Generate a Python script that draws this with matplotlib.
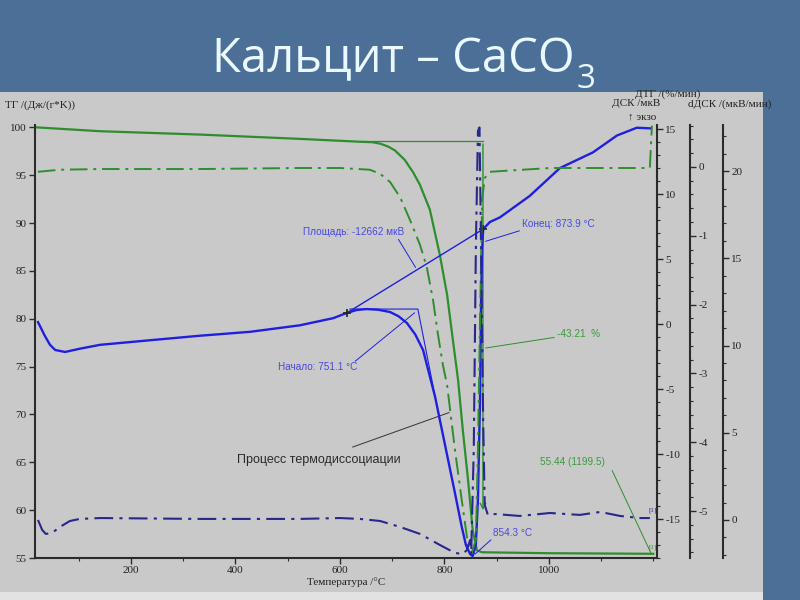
import matplotlib.pyplot as plt
from matplotlib.patches import Rectangle
from matplotlib.ticker import MultipleLocator

# ---- data (temperature in °C) ----
# TG, %
tg_t = [20, 141, 332, 523, 638, 662, 677, 692, 705, 724, 740, 753, 772, 791,
        805, 816, 826, 835, 845, 854, 862, 872, 1000, 1199.5]
tg_v = [100.0, 99.6, 99.25, 98.8, 98.5, 98.45, 98.3, 98.0, 97.6, 96.6, 95.3,
        94.0, 91.4, 86.7, 82.5, 77.8, 73.6, 68.4, 63.2, 57.9, 55.8, 55.6,
        55.5, 55.44]

# DSC, мкВ
dsc_t = [22, 35, 45, 55, 74, 102, 141, 236, 332, 428, 523, 587, 613, 632, 651,
         673, 696, 712, 728, 744, 759, 782, 801, 820, 833, 841, 849, 854, 860,
         864, 868, 870, 872, 874, 887, 906, 963, 1021, 1084, 1130, 1168, 1195]
dsc_v = [0.15, -0.9, -1.6, -2.0, -2.15, -1.9, -1.6, -1.25, -0.9, -0.6, -0.1,
         0.45, 0.85, 1.08, 1.15, 1.1, 0.92, 0.6, 0.08, -0.8, -2.0, -5.6, -9.3,
         -13.0, -15.6, -17.0, -17.7, -17.85, -17.0, -13.5, -5.8, 1.85, 5.7, 7.3,
         7.85, 8.2, 9.85, 12.0, 13.2, 14.5, 15.1, 15.05]

# DTG, %/мин
dtg_t = [22, 64, 141, 332, 523, 600, 657, 677, 696, 715, 734, 753, 766, 778,
         787, 797, 805, 820, 833, 845, 852, 860, 864, 868, 872, 877, 887, 1002,
         1098, 1193, 1197]
dtg_v = [-0.07, -0.04, -0.03, -0.03, -0.015, -0.015, -0.04, -0.10, -0.22,
         -0.44, -0.77, -1.13, -1.45, -1.93, -2.41, -2.88, -3.17, -4.11, -4.84,
         -5.49, -5.61, -5.42, -4.11, -2.22, -0.48, -0.16, -0.07, -0.015,
         -0.015, -0.015, 0.6]

# dDSC, мкВ/мин
ddsc_t = [22, 30, 37, 49, 64, 83, 102, 141, 332, 523, 600, 638, 677, 715, 753,
          791, 820, 835, 843, 849, 851, 856, 860, 864, 867, 870, 874, 877, 883,
          897, 944, 1002, 1059, 1098, 1136, 1174, 1193]
ddsc_v = [0.0, -0.57, -0.8, -0.74, -0.4, -0.06, 0.06, 0.11, 0.06, 0.06, 0.11,
          0.06, -0.06, -0.4, -0.8, -1.43, -1.89, -1.95, -1.72, -1.15, -2.0,
          4.0, 15.5, 22.3, 22.5, 15.5, 5.7, 0.86, 0.29, 0.34, 0.23, 0.4, 0.29,
          0.46, 0.23, 0.11, 0.11]

# peak evaluation construction (DSC units)
base_t, base_v = [613, 874], [0.85, 7.3]
onset_t, onset_v = [619, 749, 791], [1.15, 1.15, -7.4]
step_t, step_v = [640, 873.6, 873.6], [98.57, 98.57, 59.7]

slide_blue = '#4b6f97'
panel = '#c9c9c9'
green = '#2e8e2e'
blue = '#1f1fe0'
navy = '#27278c'
lab_blue = '#4848e4'
lab_green = '#3a9c3a'
dark = '#2b2b2b'
dashdot = (0, (9, 3, 1.5, 3))

plt.rcParams['font.family'] = ['Liberation Serif', 'DejaVu Sans']
plt.rcParams['axes.unicode_minus'] = False

fig = plt.figure(figsize=(8, 6), dpi=100, facecolor=slide_blue)
fig.patches.append(Rectangle((0, 0.0133), 0.954, 0.8334, transform=fig.transFigure,
                             facecolor=panel, edgecolor='none', zorder=-5))
fig.patches.append(Rectangle((0, 0), 0.954, 0.0133, transform=fig.transFigure,
                             facecolor='#e2e2e2', edgecolor='none', zorder=-5))

fig.text(0.265, 0.88, 'Кальцит – CaCO', color='#eaf8ff', fontsize=34,
         ha='left', va='baseline', family=['Open Sans', 'DejaVu Sans'])
fig.text(0.721, 0.853, '3', color='#eaf8ff', fontsize=24,
         ha='left', va='baseline', family=['Open Sans', 'DejaVu Sans'])

ax = fig.add_axes([0.04375, 0.07, 0.7775, 0.72167])
ax.set_facecolor('none')
ax_dsc = ax.twinx()
ax_dtg = ax.twinx()
ax_dd = ax.twinx()

ax.set_xlim(16.3, 1206.7)
ax.set_ylim(55, 100.25)
ax_dsc.set_ylim(-18.0, 15.31)
ax_dtg.set_ylim(-5.683, 0.610)
ax_dd.set_ylim(-2.18, 22.64)

for a in (ax, ax_dsc, ax_dtg, ax_dd):
    for s in a.spines.values():
        s.set_visible(False)
        s.set_color(dark)
        s.set_linewidth(1.5)
ax.spines['left'].set_visible(True)
ax.spines['bottom'].set_visible(True)
ax_dsc.spines['right'].set_visible(True)
ax_dtg.spines['right'].set_visible(True)
ax_dtg.spines['right'].set_position(('axes', 1.0531))
ax_dd.spines['right'].set_visible(True)
ax_dd.spines['right'].set_position(('axes', 1.1061))

ax.xaxis.set_major_locator(MultipleLocator(200))
ax.xaxis.set_minor_locator(MultipleLocator(100))
ax.yaxis.set_major_locator(MultipleLocator(5))
ax_dsc.yaxis.set_major_locator(MultipleLocator(5))
ax_dsc.yaxis.set_minor_locator(MultipleLocator(1))
ax_dtg.yaxis.set_major_locator(MultipleLocator(1))
ax_dtg.yaxis.set_minor_locator(MultipleLocator(0.2))
ax_dd.yaxis.set_major_locator(MultipleLocator(5))
ax_dd.yaxis.set_minor_locator(MultipleLocator(1))
for a in (ax, ax_dsc, ax_dtg, ax_dd):
    a.tick_params(which='major', direction='out', length=4, width=1,
                  color=dark, labelsize=8, labelcolor='#222222', pad=2)
    a.tick_params(which='minor', direction='out', length=2, width=0.8, color=dark)
ax.set_xticks([200, 400, 600, 800, 1000])

# curves
ax.plot(tg_t, tg_v, color=green, lw=1.6, zorder=3)
ax_dtg.plot(dtg_t, dtg_v, color=green, lw=1.4, ls=dashdot)
ax_dsc.plot(dsc_t, dsc_v, color=blue, lw=1.7)
ax_dd.plot(ddsc_t, ddsc_v, color=navy, lw=1.5, ls=dashdot)

# evaluation lines
ax_dsc.plot(base_t, base_v, color=blue, lw=1.0)
ax_dsc.plot(onset_t, onset_v, color=blue, lw=0.8)
ax_dsc.plot(base_t, base_v, ls='none', marker='+', ms=6, mew=1.2, color='#222222')
ax.plot(step_t[:2], step_v[:2], color=green, lw=0.9)
ax.annotate('', xy=(step_t[2], step_v[2]), xytext=(step_t[1], step_v[1]),
            arrowprops=dict(arrowstyle='->', color=green, lw=1.0))

txt = dict(family=['Liberation Sans', 'DejaVu Sans'], fontsize=7.2)
thin_b = dict(arrowstyle='-', color=blue, lw=0.7)
thin_g = dict(arrowstyle='-', color=green, lw=0.7)
ax.text(0.4309, 0.7529, 'Площадь: -12662 мкВ', transform=ax.transAxes,
        color=lab_blue, va='center', **txt)
ax_dsc.annotate('', xy=(747.4, 4.17), xytext=(0.582, 0.7413),
                textcoords='axes fraction', arrowprops=thin_b)
ax.text(0.783, 0.7714, 'Конец: 873.9 °C', transform=ax.transAxes,
        color=lab_blue, va='center', **txt)
ax_dsc.annotate('', xy=(873.6, 6.3), xytext=(0.783, 0.7575),
                textcoords='axes fraction', arrowprops=thin_b)
ax.text(0.5177, 0.4411, 'Начало: 751.1 °C', transform=ax.transAxes,
        color=lab_blue, va='center', ha='right', **txt)
ax_dsc.annotate('', xy=(747, 1.0), xytext=(0.5113, 0.4503),
                textcoords='axes fraction', arrowprops=thin_b)
ax.text(0.8392, 0.5173, '-43.21  %', transform=ax.transAxes,
        color=lab_green, va='center', **txt)
ax.annotate('', xy=(873.6, 76.9), xytext=(0.8392, 0.5104),
            textcoords='axes fraction', arrowprops=thin_g)
ax.text(0.8119, 0.2217, '55.44 (1199.5)', transform=ax.transAxes,
        color=lab_green, va='center', **txt)
ax.annotate('', xy=(1197, 55.3), xytext=(0.926, 0.2079),
            textcoords='axes fraction', arrowprops=thin_g)
ax.text(0.7363, 0.0577, '854.3 °C', transform=ax.transAxes,
        color=lab_blue, va='center', **txt)
ax_dsc.annotate('', xy=(854.3, -17.85), xytext=(0.7363, 0.0462),
                textcoords='axes fraction', arrowprops=thin_b)
ax.text(0.3248, 0.2263, 'Процесс термодиссоциации', transform=ax.transAxes,
        color='#2a2a2a', va='center', family=['Liberation Sans', 'DejaVu Sans'],
        fontsize=9)
ax.annotate('', xy=(814, 70.3), xytext=(0.5064, 0.254),
            textcoords='axes fraction',
            arrowprops=dict(arrowstyle='-', color='#333333', lw=0.7))
ax.text(0.9871, 0.1085, '[1]', transform=ax.transAxes, color=navy, fontsize=5)
ax.text(0.9871, 0.023, '[1]', transform=ax.transAxes, color=green, fontsize=5)

# axis titles
fig.text(0.006, 0.825, 'ТГ /(Дж/(г*K))', fontsize=8, va='center', color='#222222')
fig.text(0.834, 0.8433, 'ДТГ /(%/мин)', fontsize=8, va='center', ha='center',
         color='#222222')
fig.text(0.825, 0.8267, 'ДСК /мкВ', fontsize=8, va='center', ha='right',
         color='#222222')
fig.text(0.86, 0.8267, 'dДСК /(мкВ/мин)', fontsize=8, va='center', color='#222222')
fig.text(0.82, 0.805, '↑ экзо', fontsize=8, va='center', ha='right', color='#222222')
fig.text(0.4325, 0.03, 'Температура /°C', fontsize=8, va='center', ha='center',
         color='#222222')

fig.savefig('out.png', dpi=100, facecolor=fig.get_facecolor())
